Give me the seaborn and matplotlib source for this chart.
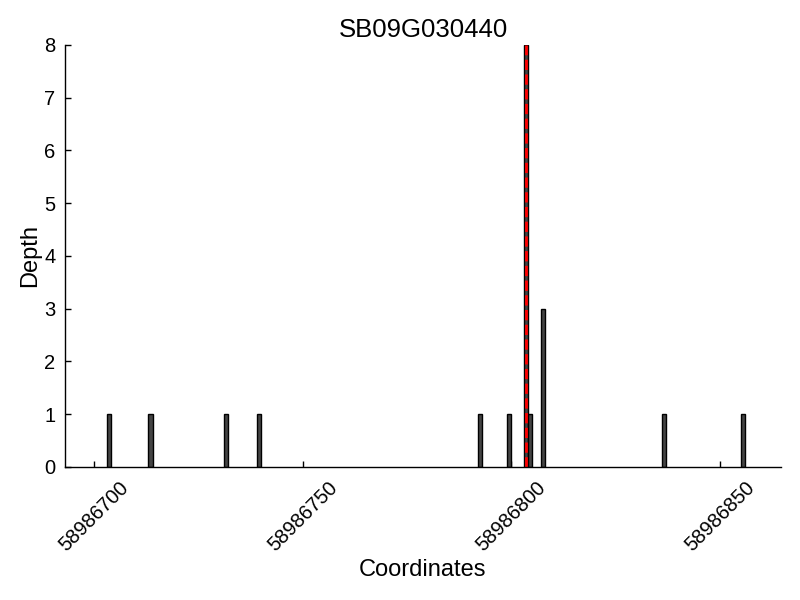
import matplotlib
matplotlib.use("Agg")
import matplotlib.pyplot as plt
import seaborn as sns
import pandas as pd

coordinates = [58986703, 58986713, 58986731, 58986739, 58986792, 58986799,
               58986803, 58986804, 58986807, 58986836, 58986855]
depths = [1, 1, 1, 1, 1, 1, 8, 1, 3, 1, 1]
marker_position = 58986803.5
title = "SB09G030440"
xticks = [58986700, 58986750, 58986800, 58986850]

sns.set_style("ticks")
plt.rcParams['font.family'] = ['Liberation Sans', 'DejaVu Sans']
for k in ["text.color", "axes.labelcolor", "xtick.color", "ytick.color", "axes.edgecolor"]:
    plt.rcParams[k] = "black"

df = pd.DataFrame({"Coordinates": coordinates, "Depth": depths})

fig = plt.figure(figsize=(8, 6), dpi=100)
ax = fig.add_axes([0.08125, 0.2217, 0.895, 0.7033])
ax.bar(df["Coordinates"], df["Depth"], width=1, align="edge",
       color="#444444", edgecolor="black", linewidth=1)
ax.axvline(marker_position, color="red", linestyle="--", linewidth=2)

ax.set_xlim(58986693, 58986864.6)
ax.set_ylim(0, 8)
ax.set_xticks(xticks)
ax.set_xticklabels([str(t) for t in xticks], rotation=45, fontsize=14.5)
ax.set_yticks(range(0, 9))
ax.tick_params(axis="y", labelsize=14.5, pad=7)
ax.tick_params(axis="x", pad=8)
ax.tick_params(direction="in", length=4, width=1, color="black")
sns.despine(ax=ax)
for s in ["left", "bottom"]:
    ax.spines[s].set_color("black")
    ax.spines[s].set_linewidth(1)
ax.set_xlabel("Coordinates", fontsize=17, labelpad=3)
ax.set_ylabel("Depth", fontsize=17, labelpad=2)
ax.set_title(title, fontsize=18.5, pad=6)
ax.grid(False)

fig.savefig("out.png", dpi=100)
